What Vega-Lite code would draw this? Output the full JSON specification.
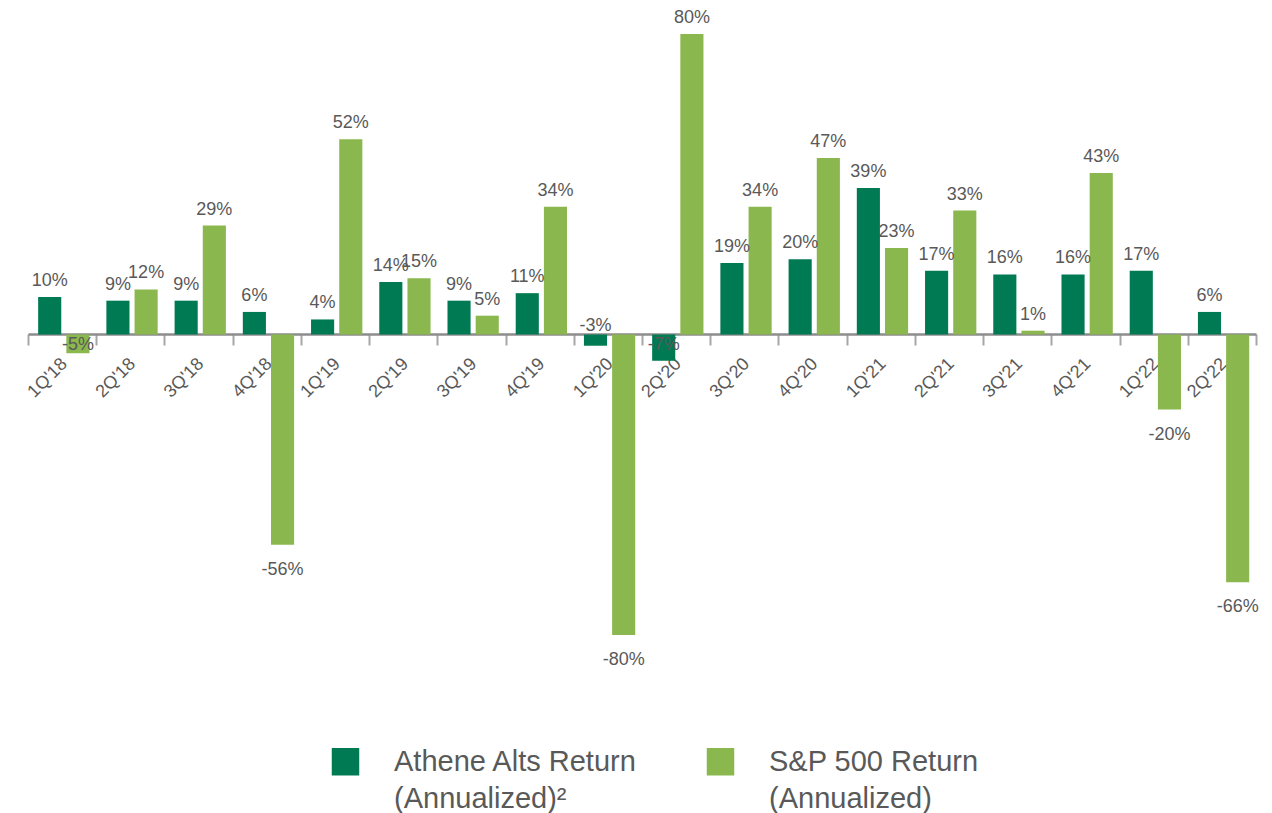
{
  "$schema": "https://vega.github.io/schema/vega-lite/v6.json",
  "autosize": "none",
  "width": 1228,
  "height": 706,
  "padding": {"left": 28, "top": 4, "right": 16, "bottom": 103},
  "background": "white",
  "config": {
    "view": {"stroke": null},
    "locale": {"number": {"decimal": ".", "thousands": ",", "grouping": [3], "currency": ["$", ""], "minus": "-"}},
    "style": {"guide-label": {"lineHeight": 37}}
  },
  "data": {"values": [
    {"quarter": "1Q'18", "series": "Athene Alts Return", "value": 0.10},
    {"quarter": "1Q'18", "series": "S&P 500 Return", "value": -0.05},
    {"quarter": "2Q'18", "series": "Athene Alts Return", "value": 0.09},
    {"quarter": "2Q'18", "series": "S&P 500 Return", "value": 0.12},
    {"quarter": "3Q'18", "series": "Athene Alts Return", "value": 0.09},
    {"quarter": "3Q'18", "series": "S&P 500 Return", "value": 0.29},
    {"quarter": "4Q'18", "series": "Athene Alts Return", "value": 0.06},
    {"quarter": "4Q'18", "series": "S&P 500 Return", "value": -0.56},
    {"quarter": "1Q'19", "series": "Athene Alts Return", "value": 0.04},
    {"quarter": "1Q'19", "series": "S&P 500 Return", "value": 0.52},
    {"quarter": "2Q'19", "series": "Athene Alts Return", "value": 0.14},
    {"quarter": "2Q'19", "series": "S&P 500 Return", "value": 0.15},
    {"quarter": "3Q'19", "series": "Athene Alts Return", "value": 0.09},
    {"quarter": "3Q'19", "series": "S&P 500 Return", "value": 0.05},
    {"quarter": "4Q'19", "series": "Athene Alts Return", "value": 0.11},
    {"quarter": "4Q'19", "series": "S&P 500 Return", "value": 0.34},
    {"quarter": "1Q'20", "series": "Athene Alts Return", "value": -0.03},
    {"quarter": "1Q'20", "series": "S&P 500 Return", "value": -0.80},
    {"quarter": "2Q'20", "series": "Athene Alts Return", "value": -0.07},
    {"quarter": "2Q'20", "series": "S&P 500 Return", "value": 0.80},
    {"quarter": "3Q'20", "series": "Athene Alts Return", "value": 0.19},
    {"quarter": "3Q'20", "series": "S&P 500 Return", "value": 0.34},
    {"quarter": "4Q'20", "series": "Athene Alts Return", "value": 0.20},
    {"quarter": "4Q'20", "series": "S&P 500 Return", "value": 0.47},
    {"quarter": "1Q'21", "series": "Athene Alts Return", "value": 0.39},
    {"quarter": "1Q'21", "series": "S&P 500 Return", "value": 0.23},
    {"quarter": "2Q'21", "series": "Athene Alts Return", "value": 0.17},
    {"quarter": "2Q'21", "series": "S&P 500 Return", "value": 0.33},
    {"quarter": "3Q'21", "series": "Athene Alts Return", "value": 0.16},
    {"quarter": "3Q'21", "series": "S&P 500 Return", "value": 0.01},
    {"quarter": "4Q'21", "series": "Athene Alts Return", "value": 0.16},
    {"quarter": "4Q'21", "series": "S&P 500 Return", "value": 0.43},
    {"quarter": "1Q'22", "series": "Athene Alts Return", "value": 0.17},
    {"quarter": "1Q'22", "series": "S&P 500 Return", "value": -0.20},
    {"quarter": "2Q'22", "series": "Athene Alts Return", "value": 0.06},
    {"quarter": "2Q'22", "series": "S&P 500 Return", "value": -0.66}
  ]},
  "encoding": {
    "x": {
      "field": "quarter", "type": "nominal", "sort": null,
      "scale": {"paddingInner": 0, "paddingOuter": 0},
      "axis": {
        "title": null, "orient": "bottom", "offset": -376,
        "labelAngle": -45, "labelAlign": "right", "labelBaseline": "middle",
        "labelFont": "Liberation Sans", "labelFontSize": 18, "labelColor": "#595959",
        "labelPadding": 16, "labelOffset": 2,
        "tickBand": "extent", "tickSize": 11, "tickColor": "#a6a6a6", "tickWidth": 2,
        "domainColor": "#8c8c8c", "domainWidth": 2.5, "grid": false
      }
    },
    "xOffset": {
      "field": "series", "type": "nominal",
      "scale": {"domain": ["Athene Alts Return", "S&P 500 Return"], "paddingInner": 0.18, "paddingOuter": 0.3, "align": 0.6}
    },
    "y": {
      "field": "value", "type": "quantitative",
      "scale": {"domain": [-1.0, 0.88], "nice": false, "zero": false},
      "axis": null
    }
  },
  "layer": [
    {
      "mark": {"type": "bar"},
      "encoding": {
        "color": {
          "field": "series", "type": "nominal",
          "scale": {"domain": ["Athene Alts Return", "S&P 500 Return"], "range": ["#007A53", "#8BB84E"]},
          "legend": {
            "title": null, "orient": "none", "legendX": 303, "legendY": 743,
            "direction": "horizontal", "padding": 0,
            "symbolType": "square", "symbolSize": 756, "symbolStrokeWidth": 0,
            "labelFont": "Liberation Sans", "labelFontSize": 29, "labelColor": "#595959",
            "labelOffset": 34, "labelLimit": 0, "columnPadding": 68,
            "labelExpr": "[datum.label, datum.label == 'Athene Alts Return' ? '(Annualized)²' : '(Annualized)']"
          }
        }
      }
    },
    {
      "transform": [{"filter": "datum.value >= 0"}],
      "mark": {"type": "text", "baseline": "alphabetic", "dy": -11, "font": "Liberation Sans", "fontSize": 18, "color": "#595959"},
      "encoding": {"text": {"field": "value", "format": ".0%"}}
    },
    {
      "transform": [{"filter": "datum.value <= -0.1"}],
      "mark": {"type": "text", "baseline": "alphabetic", "dy": 30, "font": "Liberation Sans", "fontSize": 18, "color": "#595959"},
      "encoding": {"text": {"field": "value", "format": ".0%"}}
    },
    {
      "transform": [{"filter": "datum.value > -0.1 && datum.value <= -0.04"}],
      "mark": {"type": "text", "baseline": "alphabetic", "dy": 16, "font": "Liberation Sans", "fontSize": 18, "color": "#595959"},
      "encoding": {"y": {"datum": 0}, "text": {"field": "value", "format": ".0%"}}
    },
    {
      "transform": [{"filter": "datum.value > -0.04 && datum.value < 0"}],
      "mark": {"type": "text", "baseline": "alphabetic", "dy": -3, "font": "Liberation Sans", "fontSize": 18, "color": "#595959"},
      "encoding": {"y": {"datum": 0}, "text": {"field": "value", "format": ".0%"}}
    }
  ]
}
